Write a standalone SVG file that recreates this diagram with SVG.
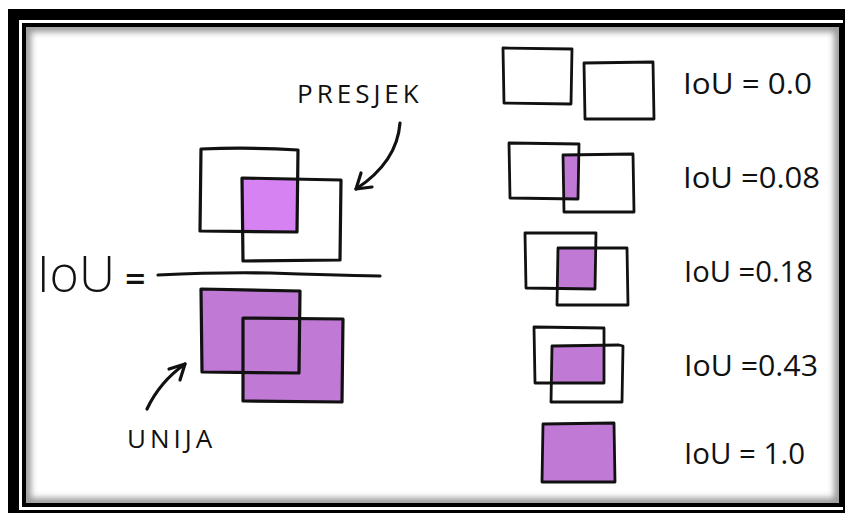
<svg xmlns="http://www.w3.org/2000/svg" width="845" height="513" viewBox="0 0 845 513">
  <defs>
    <style>
      .ink { fill: none; stroke: #111; stroke-width: 2.8; stroke-linejoin: round; stroke-linecap: round; }
      .ink-bold { fill: none; stroke: #111; stroke-width: 3.2; stroke-linejoin: round; stroke-linecap: round; }
      .hit { fill: #d682f2; stroke: none; }
      .area { fill: #c07ad6; stroke: none; }
      .cap { font-family: "Open Sans", "Liberation Sans", sans-serif; font-size: 26px; font-weight: 400; letter-spacing: 4px; fill: #111; }
      .score { font-family: "Open Sans", "Liberation Sans", sans-serif; font-size: 30px; fill: #111; }
      .big { font-family: "Open Sans", "Liberation Sans", sans-serif; font-size: 50px; font-weight: 300; fill: #111; }
    </style>
    <clipPath id="innerClip">
      <rect x="26" y="27" width="813" height="476"/>
    </clipPath>
    <filter id="soft" x="-5%" y="-5%" width="110%" height="110%">
      <feGaussianBlur stdDeviation="3"/>
    </filter>
  </defs>

  <!-- page background and double frame -->
  <rect x="0" y="0" width="845" height="513" fill="#fff"/>
  <rect x="8" y="9" width="900" height="600" fill="#000"/>
  <rect x="19" y="20" width="824" height="490" fill="#fff"/>
  <g clip-path="url(#innerClip)">
    <rect x="26" y="27" width="813" height="476" fill="none" stroke="#000" stroke-width="10" stroke-opacity="0.4" filter="url(#soft)"/>
  </g>
  <rect x="24" y="25" width="817" height="480" fill="none" stroke="#000" stroke-width="4"/>

  <!-- formula: IoU = intersection / union -->
  <g id="formula">
    <text class="big" x="37" y="292">IoU<tspan font-size="36" font-weight="600" dx="10">=</tspan></text>
    <path class="ink-bold" d="M158,275 Q220,272 270,273 Q330,275 380,276"/>
  </g>

  <g id="intersection-pair">
    <path class="hit" d="M242,179 L298,180 L297,232 L243,232 Z"/>
    <path class="ink-bold" d="M201,149 Q250,147 298,150 L297,232 L200,231 Z"/>
    <path class="ink-bold" d="M242,178 L341,180 L340,260 L243,261 Z"/>
  </g>

  <g id="union-pair">
    <path class="area" d="M201,289 L300,291 L299,318 L343,319 L342,402 L243,402 L243,373 L201,372 Z"/>
    <path class="ink-bold" d="M201,289 L300,291 L299,373 L202,372 Z"/>
    <path class="ink-bold" d="M243,318 L343,319 L342,402 L243,401 Z"/>
  </g>

  <g id="label-presjek">
    <text class="cap" x="297" y="103">PRESJEK</text>
  </g>
  <g id="label-unija">
    <text class="cap" x="127" y="448">UNIJA</text>
  </g>

  <!-- examples column -->
  <g id="example-00">
    <path class="ink" d="M503,48 L572,49 L571,104 L504,103 Z"/>
    <path class="ink" d="M584,63 L653,62 L654,119 L585,119 Z"/>
    <text class="score" x="683" y="94" textLength="129" lengthAdjust="spacingAndGlyphs">IoU = 0.0</text>
  </g>

  <g id="example-08">
    <path class="area" d="M564,155 L578,155 L578,199 L564,199 Z"/>
    <path class="ink" d="M509,143 L579,144 L578,199 L510,198 Z"/>
    <path class="ink" d="M563,155 L633,154 L634,212 L564,212 Z"/>
    <text class="score" x="683" y="188" textLength="137" lengthAdjust="spacingAndGlyphs">IoU =0.08</text>
  </g>

  <g id="example-18">
    <path class="area" d="M558,249 L596,249 L596,289 L558,289 Z"/>
    <path class="ink" d="M525,233 L596,233 L595,289 L526,288 Z"/>
    <path class="ink" d="M558,248 L627,248 L628,305 L557,305 Z"/>
    <text class="score" x="684" y="282" textLength="129" lengthAdjust="spacingAndGlyphs">IoU =0.18</text>
  </g>

  <g id="example-43">
    <path class="area" d="M552,346 L604,346 L604,383 L552,383 Z"/>
    <path class="ink" d="M534,327 L604,328 L604,383 L535,383 Z"/>
    <path class="ink" d="M552,346 L619,345 L623,346 L622,402 L551,402 Z"/>
    <text class="score" x="684" y="376" textLength="134" lengthAdjust="spacingAndGlyphs">IoU =0.43</text>
  </g>

  <g id="example-10">
    <path class="area" d="M542,424 L614,424 L615,482 L542,482 Z"/>
    <path class="ink" d="M543,424 L614,423 L615,482 L542,482 Z"/>
    <text class="score" x="684" y="464" textLength="121" lengthAdjust="spacingAndGlyphs">IoU = 1.0</text>
  </g>

  <!-- pointer arrows -->
  <g id="connectors">
    <path class="ink-bold" d="M400,123 C398,150 382,172 356,189"/>
    <path class="ink-bold" d="M372,187 L356,189 L361,173"/>
    <path class="ink-bold" d="M147,409 C155,392 168,376 185,364"/>
    <path class="ink-bold" d="M169,369 L185,364 L180,380"/>
  </g>
</svg>
